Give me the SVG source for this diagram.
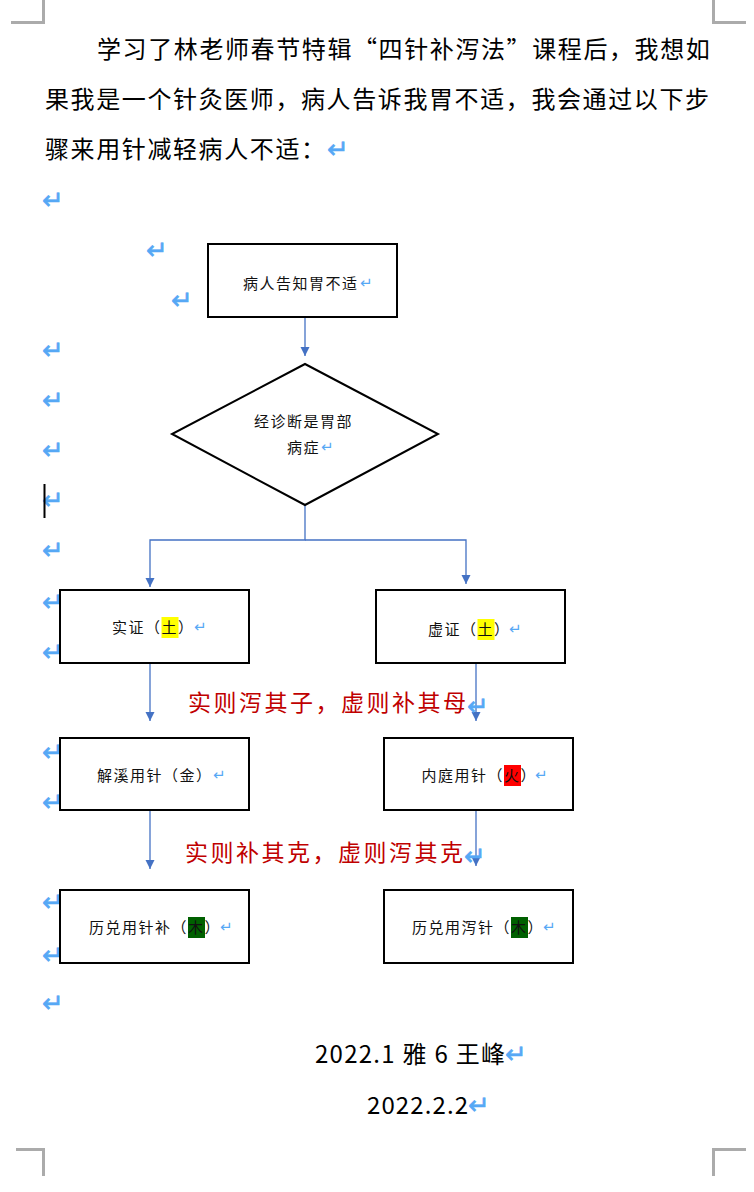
<svg xmlns="http://www.w3.org/2000/svg" width="754" height="1192" viewBox="0 0 754 1192">
<defs>
<style>
.corner{fill:none;stroke:#ababab;stroke-width:3}
.box{fill:#fff;stroke:#000;stroke-width:2}
.conn{fill:none;stroke:#4472c4;stroke-width:1.3}
.body{font-family:"Noto Sans CJK SC",sans-serif;font-size:24px;letter-spacing:1.6px;fill:#000}
.lbl{font-family:"Noto Sans CJK SC",sans-serif;font-size:15px;letter-spacing:1.5px;fill:#111}
.red{font-family:"Noto Sans CJK SC",sans-serif;font-size:23px;letter-spacing:2.5px;fill:#c00000}
.sig{font-family:"Noto Sans CJK SC",sans-serif;font-size:24px;fill:#000}
.pm{font-family:"DejaVu Sans",sans-serif;font-size:26px;fill:#56a8f5;stroke:#56a8f5;stroke-width:0.6}
.pms{font-family:"DejaVu Sans",sans-serif;font-size:15px;fill:#56a8f5}
</style>
<marker id="ah" viewBox="0 0 10 10" refX="10" refY="5" markerWidth="9" markerHeight="10" markerUnits="userSpaceOnUse" orient="auto">
<path d="M0,0 L10,5 L0,10 z" fill="#4472c4"/>
</marker>
</defs>
<rect width="754" height="1192" fill="#fff"/>
<g id="corners">
<path class="corner" d="M11,22.5 H43.5 V0"/>
<path class="corner" d="M746,22.5 H713.5 V0"/>
<path class="corner" d="M16,1149.5 H43.5 V1176"/>
<path class="corner" d="M746,1149.5 H713.5 V1176"/>
</g>
<g id="intro">
<text class="body" x="97" y="57.5">学习了林老师春节特辑“四针补泻法”课程后，我想如</text>
<text class="body" x="45" y="107.5">果我是一个针灸医师，病人告诉我胃不适，我会通过以下步</text>
<text class="body" x="45" y="157.5">骤来用针减轻病人不适：</text>
<text class="pm" x="327" y="158">↵</text>
</g>
<g id="para-marks">
<text class="pm" x="42" y="209">↵</text>
<text class="pm" x="146" y="259">↵</text>
<text class="pm" x="171" y="309">↵</text>
<text class="pm" x="42" y="359">↵</text>
<text class="pm" x="42" y="409">↵</text>
<text class="pm" x="42" y="459">↵</text>
<text class="pm" x="42" y="509">↵</text>
<text class="pm" x="42" y="559">↵</text>
<text class="pm" x="42" y="611">↵</text>
<text class="pm" x="42" y="661">↵</text>
<text class="pm" x="42" y="761">↵</text>
<text class="pm" x="42" y="811">↵</text>
<text class="pm" x="42" y="911">↵</text>
<text class="pm" x="42" y="964">↵</text>
<text class="pm" x="42" y="1012">↵</text>
<line x1="44.5" y1="484" x2="44.5" y2="518" stroke="#000" stroke-width="2"/>
</g>
<g id="connectors">
<line class="conn" x1="305" y1="317" x2="305" y2="356" marker-end="url(#ah)"/>
<path class="conn" d="M305,505 V540 H150 V587" marker-end="url(#ah)"/>
<path class="conn" d="M305,540 H466 V584" marker-end="url(#ah)"/>
<line class="conn" x1="150" y1="663" x2="150" y2="721" marker-end="url(#ah)"/>
<line class="conn" x1="476" y1="663" x2="476" y2="721" marker-end="url(#ah)"/>
<line class="conn" x1="150" y1="810" x2="150" y2="869" marker-end="url(#ah)"/>
<line class="conn" x1="476" y1="810" x2="476" y2="866" marker-end="url(#ah)"/>
</g>
<g id="node-start">
<rect class="box" x="208" y="244" width="189" height="73"/>
<text class="lbl" x="243" y="288.5">病人告知胃不适</text>
<text class="pms" x="360" y="288">↵</text>
</g>
<g id="node-diagnose">
<polygon class="box" points="305,364 438,434 305,505 172,434"/>
<text class="lbl" x="254" y="426.5">经诊断是胃部</text>
<text class="lbl" x="287" y="452.5">病症</text>
<text class="pms" x="321" y="452">↵</text>
</g>
<g id="node-shizheng">
<rect class="box" x="60" y="590" width="189" height="73"/>
<rect x="161.5" y="617" width="17" height="21" fill="#ffff00"/>
<text class="lbl" x="112" y="632.5">实证（土）</text>
<text class="pms" x="194" y="632">↵</text>
</g>
<g id="node-xuzheng">
<rect class="box" x="376" y="590" width="189" height="73"/>
<rect x="477.5" y="619" width="17" height="21" fill="#ffff00"/>
<text class="lbl" x="428" y="634.5">虚证（土）</text>
<text class="pms" x="509" y="634">↵</text>
</g>
<g id="label-1">
<text class="red" x="188" y="710.5">实则泻其子，虚则补其母</text>
<text class="pm" x="467" y="715">↵</text>
</g>
<g id="node-jiexi">
<rect class="box" x="60" y="738" width="189" height="72"/>
<text class="lbl" x="97" y="780.5">解溪用针（金）</text>
<text class="pms" x="213" y="780">↵</text>
</g>
<g id="node-neiting">
<rect class="box" x="384" y="738" width="189" height="72"/>
<rect x="504" y="765" width="17" height="21" fill="#ff0000"/>
<text class="lbl" x="421.5" y="780.5">内庭用针（火）</text>
<text class="pms" x="535" y="780">↵</text>
</g>
<g id="label-2">
<text class="red" x="185" y="860.5">实则补其克，虚则泻其克</text>
<text class="pm" x="464" y="865">↵</text>
</g>
<g id="node-lidui-bu">
<rect class="box" x="60" y="890" width="189" height="73"/>
<rect x="188" y="917" width="17" height="21" fill="#006000"/>
<text class="lbl" x="89" y="932.5">历兑用针补（木）</text>
<text class="pms" x="220" y="932">↵</text>
</g>
<g id="node-lidui-xie">
<rect class="box" x="384" y="890" width="189" height="73"/>
<rect x="511" y="917" width="17" height="21" fill="#006000"/>
<text class="lbl" x="412" y="932.5">历兑用泻针（木）</text>
<text class="pms" x="543" y="932">↵</text>
</g>
<g id="signature">
<text class="sig" x="315" y="1063" textLength="190" lengthAdjust="spacing">2022.1 雅 6 王峰</text>
<text class="pm" x="505" y="1063">↵</text>
<text class="sig" x="367" y="1114" textLength="101" lengthAdjust="spacing">2022.2.2</text>
<text class="pm" x="468" y="1114">↵</text>
</g>
</svg>
